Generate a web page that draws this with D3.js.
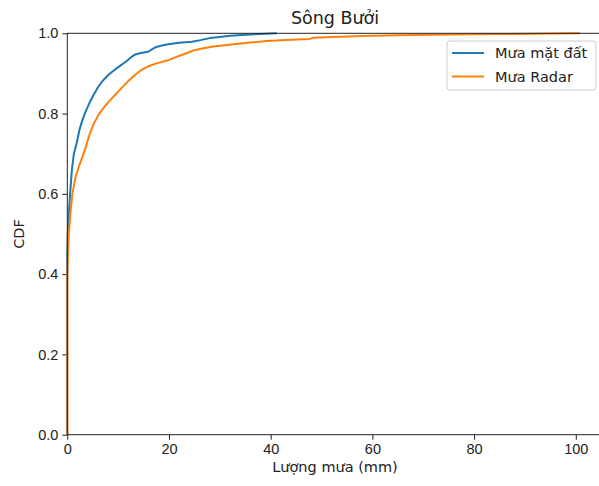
<!DOCTYPE html>
<html>
<head>
<meta charset="utf-8">
<script src="https://cdn.jsdelivr.net/npm/d3@7"></script>
<style>
  body { margin: 0; background: #fff; }
  svg { font-family: "DejaVu Sans", sans-serif; }
  .tick text { font-size: 14.5px; fill: #222; }
</style>
</head>
<body>
<div id="chart"></div>
<script>
// CDF of rainfall (x = mm, y = cumulative fraction)
var groundX = [0, 0, 0.1, 0.3, 0.55, 0.9, 1.3, 1.9, 2.4, 3.0, 3.6, 4.3, 5.1, 6.0, 7.0, 8.2, 9.4, 10.5, 11.5, 12.5, 13.3, 14.5, 15.9, 16.8, 17.5, 19, 20.5, 22.5, 24.5, 26.2, 28, 30, 32, 36, 41.2];
var groundY = [0, 0.45, 0.5, 0.55, 0.6, 0.66, 0.7, 0.73, 0.76, 0.785, 0.805, 0.825, 0.845, 0.865, 0.882, 0.898, 0.91, 0.92, 0.929, 0.94, 0.947, 0.951, 0.954, 0.961, 0.966, 0.971, 0.974, 0.977, 0.979, 0.983, 0.988, 0.991, 0.994, 0.997, 1.0];

var radarX = [0, 0, 0.3, 0.6, 1.0, 1.6, 2.2, 2.9, 3.6, 4.3, 5.2, 6.3, 7.3, 8.4, 9.5, 10.7, 12.0, 13.3, 14.5, 16, 17.5, 19.9, 21.2, 22.5, 24.8, 26.5, 28.7, 32.7, 36, 39.2, 44, 47.7, 48.4, 53.6, 58.2, 65, 71.3, 85, 100.8];
var radarY = [0, 0.4, 0.5, 0.55, 0.6, 0.64, 0.665, 0.69, 0.715, 0.745, 0.775, 0.8, 0.817, 0.833, 0.848, 0.864, 0.881, 0.896, 0.908, 0.918, 0.925, 0.933, 0.94, 0.946, 0.957, 0.962, 0.967, 0.973, 0.977, 0.981, 0.984, 0.986, 0.989, 0.9915, 0.993, 0.995, 0.9965, 0.998, 1.0];

var xTicks = [0, 20, 40, 60, 80, 100];
var yTicks = [0, 0.2, 0.4, 0.6, 0.8, 1.0];

var seriesNames = ['Mưa mặt đất', 'Mưa Radar'];
var seriesColors = ['#1f77b4', '#ff7f0e'];

var fullWidth = 599, fullHeight = 486;
var margin = {top: 33.3, left: 67.3};
var width = 539;        // axes run past the right edge of the picture
var height = 401.4;

var svg = d3.select('#chart').append('svg')
  .attr('width', fullWidth)
  .attr('height', fullHeight);

var g = svg.append('g')
  .attr('transform', 'translate(' + margin.left + ',' + margin.top + ')');

var x = d3.scaleLinear().domain([0, 106]).range([0, width]);
var y = d3.scaleLinear().domain([0, 1]).range([height, 0]);

// axes
var xAxis = d3.axisBottom(x).tickValues(xTicks).tickSize(5).tickPadding(4).tickFormat(d3.format('d'));
var yAxis = d3.axisLeft(y).tickValues(yTicks).tickSize(5).tickPadding(4).tickFormat(d3.format('.1f'));

g.append('g')
  .attr('transform', 'translate(0,' + height + ')')
  .call(xAxis)
  .call(function(s) { s.select('.domain').remove(); });

g.append('g')
  .call(yAxis)
  .call(function(s) { s.select('.domain').remove(); });

g.selectAll('.tick line').attr('stroke', '#222');

// lines
var line = d3.line()
  .x(function(d) { return x(d[0]); })
  .y(function(d) { return y(d[1]); });

var groundData = groundX.map(function(v, i) { return [v, groundY[i]]; });
var radarData = radarX.map(function(v, i) { return [v, radarY[i]]; });

[groundData, radarData].forEach(function(data, i) {
  g.append('path')
    .datum(data)
    .attr('fill', 'none')
    .attr('stroke', seriesColors[i])
    .attr('stroke-width', 2)
    .attr('stroke-linejoin', 'round')
    .attr('d', line);
});

// spines
g.append('rect')
  .attr('x', 0).attr('y', 0)
  .attr('width', width).attr('height', height)
  .attr('fill', 'none')
  .attr('stroke', '#222')
  .attr('stroke-width', 1);

// title and labels
svg.append('text')
  .attr('x', 335)
  .attr('y', 24)
  .attr('text-anchor', 'middle')
  .style('font-size', '17.5px')
  .style('fill', '#222')
  .text('Sông Bưởi');

svg.append('text')
  .attr('x', 335)
  .attr('y', 472)
  .attr('text-anchor', 'middle')
  .style('font-size', '14.5px')
  .style('fill', '#222')
  .text('Lượng mưa (mm)');

svg.append('text')
  .attr('transform', 'translate(24,' + (margin.top + height / 2) + ') rotate(-90)')
  .attr('text-anchor', 'middle')
  .style('font-size', '14.5px')
  .style('fill', '#222')
  .text('CDF');

// legend
var legend = svg.append('g').attr('transform', 'translate(447,41)');
legend.append('rect')
  .attr('width', 149).attr('height', 49)
  .attr('rx', 3)
  .attr('fill', '#fff')
  .attr('fill-opacity', 0.8)
  .attr('stroke', '#ccc');

seriesNames.forEach(function(name, i) {
  var row = legend.append('g').attr('transform', 'translate(0,' + (12 + i * 23.5) + ')');
  row.append('line')
    .attr('x1', 5).attr('x2', 37)
    .attr('stroke', seriesColors[i])
    .attr('stroke-width', 2);
  row.append('text')
    .attr('x', 48).attr('y', 5)
    .style('font-size', '14.5px')
    .style('fill', '#222')
    .text(name);
});
</script>
</body>
</html>
